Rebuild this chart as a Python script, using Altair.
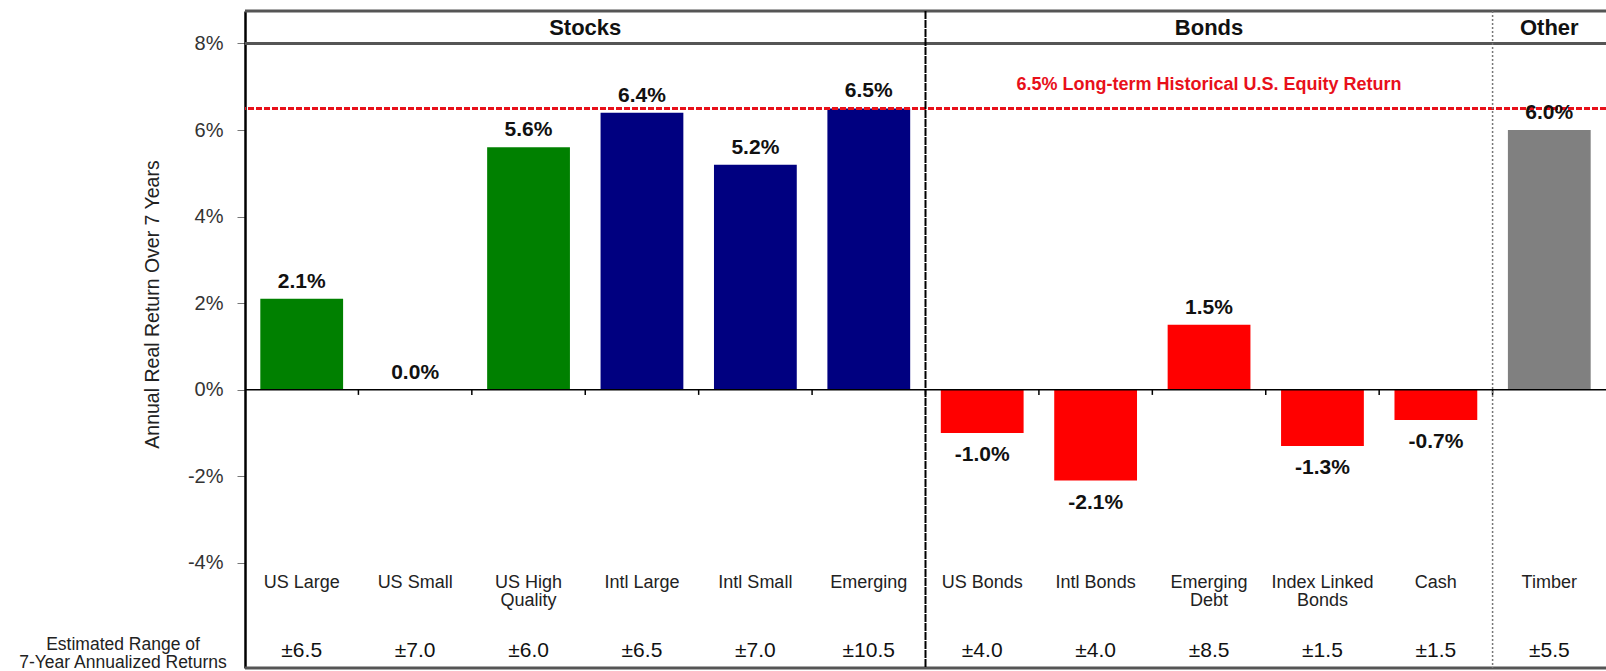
import altair as alt
import pandas as pd

# ---- data ----
categories = ["US Large", "US Small", "US High\nQuality", "Intl Large", "Intl Small", "Emerging",
              "US Bonds", "Intl Bonds", "Emerging\nDebt", "Index Linked\nBonds", "Cash", "Timber"]
returns = [2.1, 0.0, 5.6, 6.4, 5.2, 6.5, -1.0, -2.1, 1.5, -1.3, -0.7, 6.0]
ranges = ["±6.5", "±7.0", "±6.0", "±6.5", "±7.0", "±10.5",
          "±4.0", "±4.0", "±8.5", "±1.5", "±1.5", "±5.5"]
segments = ["US Equity", "US Equity", "US Equity", "Intl Equity", "Intl Equity", "Intl Equity",
            "Bonds", "Bonds", "Bonds", "Bonds", "Bonds", "Real Assets"]
segment_names = ["US Equity", "Intl Equity", "Bonds", "Real Assets"]
segment_colors = ["#008000", "#000080", "#FF0000", "#808080"]
y_ticks = [-4, -2, 0, 2, 4, 6, 8]
equity_hist = 6.5
equity_note = "6.5% Long-term Historical U.S. Equity Return"

FONT = "Liberation Sans"
W, H = 1361, 657

df = pd.DataFrame({
    "cat": categories,
    "value": returns,
    "range": ranges,
    "segment": segments,
    "label": [f"{v:.1f}%" for v in returns],
})

xscale = alt.Scale(domain=categories, paddingInner=0, paddingOuter=0)
yscale = alt.Scale(domain=[-6.43, 8.75], nice=False, zero=False)

x_axis = alt.Axis(orient="bottom", offset=-95, domain=False, ticks=False, labelAngle=0,
                  labelExpr="split(datum.label, '\\n')", labelFontSize=18, labelLineHeight=18,
                  labelBaseline="top", labelPadding=0, labelColor="#222", labelFont=FONT,
                  labelOverlap=False, labelBound=False, title=None, grid=False)
y_axis = alt.Axis(values=y_ticks, labelExpr="datum.value + '%'", grid=False,
                  domainColor="black", domainWidth=2.5, tickColor="#777", tickSize=8,
                  labelFontSize=20, labelColor="#333", labelPadding=14, labelFont=FONT,
                  title="Annual Real Return Over 7 Years", titleFontSize=19.5, titleFont=FONT,
                  titleColor="#222", titleFontWeight="normal", titleX=-93, titleY=293,
                  titleAngle=270, titleAlign="center", titleBaseline="middle")

base = alt.Chart(df)

bars = base.mark_bar(width=alt.RelativeBandSize(0.73)).encode(
    x=alt.X("cat:N", scale=xscale, axis=x_axis, sort=None),
    y=alt.Y("value:Q", scale=yscale, axis=y_axis),
    y2=alt.datum(0),
    color=alt.Color("segment:N", scale=alt.Scale(domain=segment_names, range=segment_colors),
                    legend=None),
)

pos_labels = base.transform_filter("datum.value >= 0").mark_text(
    baseline="alphabetic", dy=-11, fontSize=21, fontWeight="bold", color="#111", font=FONT
).encode(x=alt.X("cat:N", scale=xscale, sort=None), y=alt.Y("value:Q", scale=yscale), text="label:N")

neg_labels = base.transform_filter("datum.value < 0").mark_text(
    baseline="top", dy=11, fontSize=21, fontWeight="bold", color="#111", font=FONT
).encode(x=alt.X("cat:N", scale=xscale, sort=None), y=alt.Y("value:Q", scale=yscale), text="label:N")

range_row = base.mark_text(fontSize=21, color="#111", baseline="middle", font=FONT).encode(
    x=alt.X("cat:N", scale=xscale, sort=None), y=alt.value(640), text="range:N")

range_title = alt.Chart(pd.DataFrame({"t": ["Estimated Range of\n7-Year Annualized Returns"]})).mark_text(
    fontSize=17.5, color="#222", align="center", baseline="middle", lineBreak="\n", lineHeight=18, font=FONT
).encode(x=alt.value(-122), y=alt.value(634), text="t:N")

zero_line = alt.Chart(pd.DataFrame({"y": [0]})).mark_rule(color="black", strokeWidth=1.5).encode(
    y=alt.Y("y:Q", scale=yscale))
header_line = alt.Chart(pd.DataFrame({"y": [8]})).mark_rule(color="#555", strokeWidth=3).encode(
    y=alt.Y("y:Q", scale=yscale))
top_line = alt.Chart(pd.DataFrame({"a": [1]})).mark_rule(color="#555", strokeWidth=3).encode(
    y=alt.value(0))
bottom_line = alt.Chart(pd.DataFrame({"a": [1]})).mark_rule(color="#555", strokeWidth=3).encode(
    y=alt.value(H))

hist_line = alt.Chart(pd.DataFrame({"y": [equity_hist]})).mark_rule(
    color="#E8101A", strokeWidth=3, strokeDash=[6, 2]).encode(y=alt.Y("y:Q", scale=yscale))
hist_text = alt.Chart(pd.DataFrame({"cat": ["Emerging\nDebt"], "y": [equity_hist], "t": [equity_note]})).mark_text(
    color="#E8101A", fontSize=18, fontWeight="bold", dy=-23, baseline="middle", font=FONT
).encode(x=alt.X("cat:N", scale=xscale, bandPosition=0.5, sort=None),
         y=alt.Y("y:Q", scale=yscale), text="t:N")

sep_main = alt.Chart(pd.DataFrame({"cat": ["US Bonds"]})).mark_rule(
    color="black", strokeWidth=2, strokeDash=[8, 1]).encode(
    x=alt.X("cat:N", scale=xscale, bandPosition=0, sort=None), y=alt.value(0), y2=alt.value(H))
sep_other = alt.Chart(pd.DataFrame({"cat": ["Timber"]})).mark_rule(
    color="#777", strokeWidth=1.5, strokeDash=[2, 2]).encode(
    x=alt.X("cat:N", scale=xscale, bandPosition=0, sort=None), y=alt.value(0), y2=alt.value(H))

# small Excel-style tick marks on the zero line at each category boundary
zero_ticks = alt.Chart(pd.DataFrame({"cat": categories[1:]})).mark_rule(
    color="black", strokeWidth=1.5).encode(
    x=alt.X("cat:N", scale=xscale, bandPosition=0, sort=None),
    y=alt.Y("z:Q", scale=yscale), y2=alt.Y2("z2:Q")
).transform_calculate(z="0", z2="-0.12")

head_stocks = alt.Chart(pd.DataFrame({"cat": ["Intl Large"], "t": ["Stocks"]})).mark_text(
    fontSize=22, fontWeight="bold", color="#111", baseline="middle", font=FONT).encode(
    x=alt.X("cat:N", scale=xscale, bandPosition=0, sort=None), y=alt.value(16.5), text="t:N")
head_rest = alt.Chart(pd.DataFrame({"cat": ["Emerging\nDebt", "Timber"], "t": ["Bonds", "Other"]})).mark_text(
    fontSize=22, fontWeight="bold", color="#111", baseline="middle", font=FONT).encode(
    x=alt.X("cat:N", scale=xscale, bandPosition=0.5, sort=None), y=alt.value(16.5), text="t:N")

chart = alt.layer(
    bars, zero_line, zero_ticks, hist_line, header_line, top_line, bottom_line,
    sep_main, sep_other, pos_labels, neg_labels, range_row, range_title,
    hist_text, head_stocks, head_rest
).properties(
    width=W, height=H,
    padding={"left": 245, "top": 11, "right": 0, "bottom": 3},
    autosize=alt.AutoSizeParams(type="none"),
    background="white",
).configure_view(stroke=None).configure(font=FONT)

chart.save("out.html", embed_options={"renderer": "svg", "actions": False})
